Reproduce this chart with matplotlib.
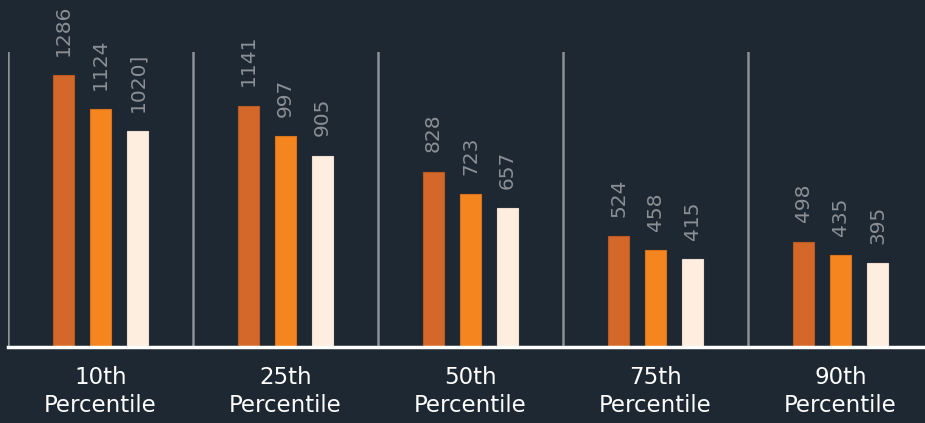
import matplotlib
matplotlib.use("Agg")
import matplotlib.pyplot as plt
import numpy as np

categories = ["10th\nPercentile", "25th\nPercentile", "50th\nPercentile", "75th\nPercentile", "90th\nPercentile"]
series_a = [1286, 1141, 828, 524, 498]
series_b = [1124, 997, 723, 458, 435]
series_c = [1020, 905, 657, 415, 395]
labels_a = ["1286", "1141", "828", "524", "498"]
labels_b = ["1124", "997", "723", "458", "435"]
labels_c = ["1020]", "905", "657", "415", "395"]

bg = "#1e2833"
colors = ["#d4682a", "#f5851f", "#fdeee0"]
edges = ["#b85a22", "#d9731a", "#f0ddd0"]

plt.rcParams['font.family'] = ['DejaVu Sans']

fig = plt.figure(figsize=(9.25, 4.23), dpi=100, facecolor=bg)
ax = fig.add_axes([8/925, (423-347)/423, 925/925, 295/423])
ax.set_facecolor(bg)

x = np.arange(len(categories))
offs = [-0.2, 0.0, 0.2]
w = 0.11
for vals, labs, off, c, ec in zip([series_a, series_b, series_c],
                                  [labels_a, labels_b, labels_c], offs, colors, edges):
    ax.bar(x + off, vals, width=w, color=c, edgecolor=ec, linewidth=0.8, zorder=3)
    for xi, v, lab in zip(x, vals, labs):
        ax.annotate(lab, (xi + off, v), xytext=(0, 14), textcoords="offset points",
                    rotation=90, ha="center", va="bottom", color="#8a9096",
                    fontsize=14.5, annotation_clip=False)

for sep in np.arange(-0.5, len(categories), 1.0):
    ax.axvline(sep, color="#8c9196", linewidth=1.8, zorder=1)

ax.set_xlim(-0.5, len(categories) - 0.5)
ax.set_ylim(0, 1395)
for s in ["top", "right", "left"]:
    ax.spines[s].set_visible(False)
ax.spines["bottom"].set_color("white")
ax.spines["bottom"].set_linewidth(2.5)
ax.spines["bottom"].set_zorder(4)
ax.set_yticks([])
ax.set_xticks(x)
ax.set_xticklabels(categories, color="white", fontsize=16.5, linespacing=1.25)
ax.tick_params(axis="x", length=0, pad=14)

fig.savefig("out.png", dpi=100, facecolor=bg)
